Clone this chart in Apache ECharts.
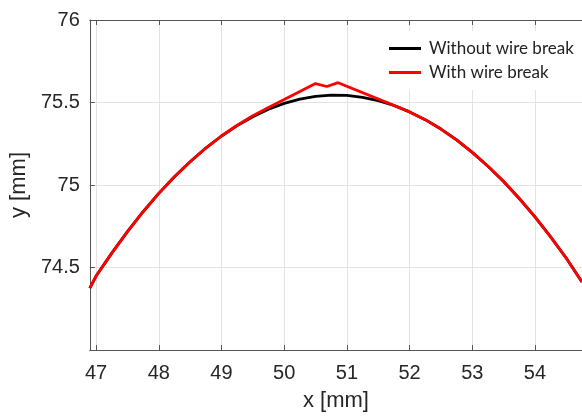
<!DOCTYPE html>
<html>
<head>
<meta charset="utf-8">
<script src="https://cdn.jsdelivr.net/npm/echarts@6/dist/echarts.min.js"></script>
<style>
html,body{margin:0;padding:0;background:#fff;}
#c{width:582px;height:417px;}
</style>
</head>
<body>
<div id="c"></div>
<script>
var seriesNames = ['Without wire break', 'With wire break'];
var xBlack = [46.9, 47.0, 47.25, 47.5, 47.75, 48.0, 48.25, 48.5, 48.75, 49.0, 49.25, 49.5, 49.75, 50.0, 50.25, 50.5, 50.75, 51.0, 51.25, 51.5, 51.75, 52.0, 52.25, 52.5, 52.75, 53.0, 53.25, 53.5, 53.75, 54.0, 54.25, 54.5, 54.75];
var yBlack = [74.375, 74.448, 74.587, 74.717, 74.838, 74.949, 75.05, 75.141, 75.224, 75.297, 75.36, 75.414, 75.459, 75.495, 75.521, 75.537, 75.545, 75.543, 75.531, 75.511, 75.482, 75.443, 75.396, 75.339, 75.273, 75.198, 75.114, 75.021, 74.918, 74.807, 74.686, 74.556, 74.412];
var xRed = [46.9, 47.0, 47.25, 47.5, 47.75, 48.0, 48.25, 48.5, 48.75, 49.0, 49.25, 49.5, 49.75, 50.0, 50.5, 50.68, 50.86, 51.8, 52.0, 52.25, 52.5, 52.75, 53.0, 53.25, 53.5, 53.75, 54.0, 54.25, 54.5, 54.75];
var yRed = [74.375, 74.448, 74.587, 74.717, 74.838, 74.949, 75.05, 75.141, 75.224, 75.297, 75.362, 75.42, 75.469, 75.518, 75.615, 75.597, 75.62, 75.475, 75.443, 75.396, 75.339, 75.273, 75.198, 75.114, 75.021, 74.918, 74.807, 74.686, 74.556, 74.412];
var xRange = [46.9, 54.75];
var yRange = [74, 76];
var xTitle = 'x [mm]';
var yTitle = 'y [mm]';

function pairs(xs, ys) { return xs.map(function (x, i) { return [x, ys[i]]; }); }

var axisColor = '#555555';
var gridColor = '#e3e3e3';
var labelFont = 'Liberation Sans, Arial, sans-serif';

var chart = echarts.init(document.getElementById('c'), null, {renderer: 'canvas'});
chart.setOption({
  animation: false,
  backgroundColor: '#ffffff',
  grid: {left: 86, right: 0, top: 20, bottom: 60, containLabel: false},
  legend: {
    orient: 'vertical',
    left: 383,
    top: 31,
    padding: [8, 10, 8, 6],
    backgroundColor: '#ffffff',
    itemWidth: 32,
    itemHeight: 3,
    itemGap: 5,
    icon: 'rect',
    data: seriesNames,
    textStyle: {fontFamily: 'Lato, Carlito, sans-serif', fontSize: 17, color: '#222', lineHeight: 19, padding: [0, 0, 0, 3]}
  },
  xAxis: [{
    type: 'value',
    min: xRange[0], max: xRange[1],
    splitNumber: 8, minInterval: 1, maxInterval: 1,
    position: 'bottom',
    name: xTitle, nameLocation: 'middle', nameGap: 40,
    nameTextStyle: {fontFamily: labelFont, fontSize: 22, color: '#262626'},
    axisLine: {show: true, onZero: false, lineStyle: {color: axisColor, width: 1}},
    axisTick: {show: true, inside: true, length: 5, lineStyle: {color: axisColor}},
    axisLabel: {show: true, margin: 13, fontFamily: labelFont, fontSize: 20, color: '#262626', showMinLabel: false, showMaxLabel: false},
    splitLine: {show: true, lineStyle: {color: gridColor, width: 1}}
  }, {
    type: 'value',
    min: xRange[0], max: xRange[1],
    splitNumber: 8, minInterval: 1, maxInterval: 1,
    position: 'top',
    axisLine: {show: true, onZero: false, lineStyle: {color: axisColor, width: 1}},
    axisTick: {show: true, inside: true, length: 5, lineStyle: {color: axisColor}},
    axisLabel: {show: false},
    splitLine: {show: false}
  }],
  yAxis: [{
    type: 'value',
    min: yRange[0], max: yRange[1], interval: 0.5,
    name: yTitle, nameLocation: 'middle', nameGap: 52, nameRotate: 90,
    nameTextStyle: {fontFamily: labelFont, fontSize: 22, color: '#262626'},
    axisLine: {show: true, onZero: false, lineStyle: {color: axisColor, width: 1}},
    axisTick: {show: true, inside: true, length: 5, lineStyle: {color: axisColor}},
    axisLabel: {show: true, margin: 10, fontFamily: labelFont, fontSize: 20, color: '#262626', showMinLabel: false},
    splitLine: {show: true, lineStyle: {color: gridColor, width: 1}}
  }],
  series: [{
    name: seriesNames[0],
    type: 'line',
    data: pairs(xBlack, yBlack),
    showSymbol: false,
    symbol: 'none',
    smooth: false,
    color: '#000000',
    lineStyle: {color: '#000000', width: 2.8},
    z: 2
  }, {
    name: seriesNames[1],
    type: 'line',
    data: pairs(xRed, yRed),
    showSymbol: false,
    symbol: 'none',
    smooth: false,
    color: '#ff0000',
    lineStyle: {color: '#ff0000', width: 2.8},
    z: 3
  }]
});
</script>
</body>
</html>
